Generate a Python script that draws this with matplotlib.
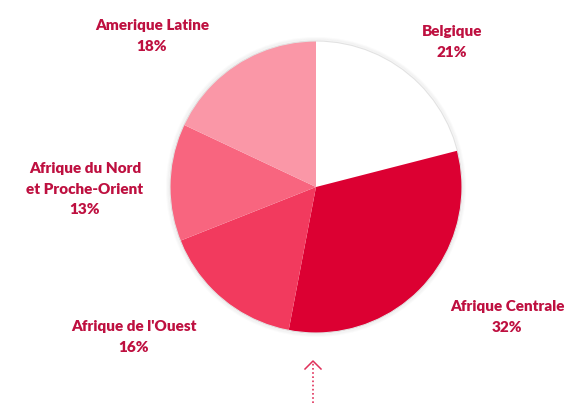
import matplotlib.pyplot as plt
from matplotlib.patches import Circle

# data
regions = ["Belgique", "Afrique Centrale", "Afrique de l'Ouest",
           "Afrique du Nord\net Proche-Orient", "Amerique Latine"]
shares = [21, 32, 16, 13, 18]
colors = ["#FFFFFF", "#DC0032", "#F23A5E", "#F8657F", "#FA97A7"]

txtcol = "#BE1040"
W, H = 579, 403

fig = plt.figure(figsize=(W / 100, H / 100), dpi=100)
ax = fig.add_axes([0, 0, 1, 1])

cx, cy, r = 316, H - 187, 146

# soft shadow ring
for i, a in enumerate([0.05, 0.04, 0.03]):
    ax.add_patch(Circle((cx, cy), r + 1 + i, fill=False, lw=1.5,
                        ec="#888888", alpha=a, zorder=0))

ax.pie(shares, colors=colors, startangle=90, counterclock=False,
       center=(cx, cy), radius=r,
       wedgeprops=dict(linewidth=0, antialiased=True))
ax.add_patch(Circle((cx, cy), r, fill=False, lw=0.8, ec="#E2E2E2", zorder=3))

# label block centres (pixels from top-left)
label_xy = [(452, 42), (507, 317), (134, 337), (85, 189), (152, 36)]
for name, val, (x, y) in zip(regions, shares, label_xy):
    ax.text(x, H - y, f"{name}\n{val}%", ha="center", va="center",
            fontsize=11, fontweight="heavy", color=txtcol,
            family="Lato", linespacing=1.72)

# dotted arrow below the pie
ax.plot([313, 313], [H - 403, H - 362], ls=(0, (1, 1.5)), lw=1.2, color="#E0305A")
ax.plot([305, 313, 321], [H - 369, H - 361, H - 369], lw=1.1, color="#E0305A")

ax.set_xlim(0, W)
ax.set_ylim(0, H)
ax.set_aspect("equal")
ax.axis("off")

fig.savefig("out.png", dpi=100)
